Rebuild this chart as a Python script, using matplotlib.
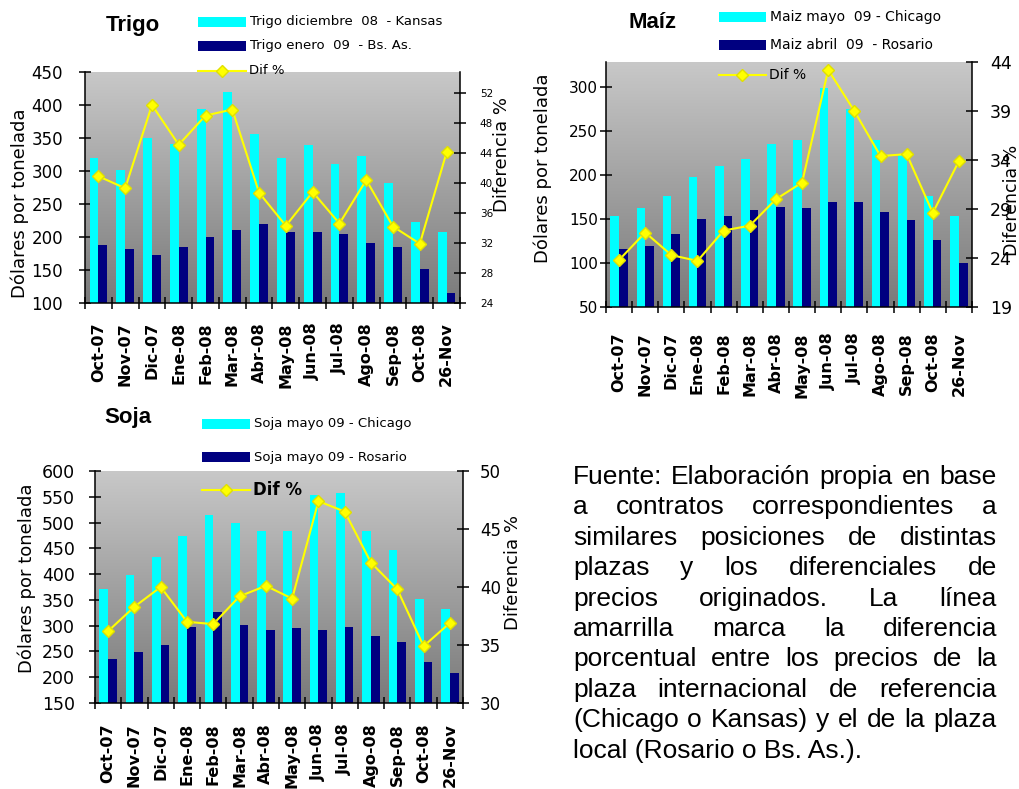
import matplotlib
matplotlib.use('Agg')
import matplotlib.pyplot as plt
import numpy as np
from matplotlib.patches import Rectangle
from matplotlib.lines import Line2D
from matplotlib.colors import LinearSegmentedColormap

# Datos
meses = ['Oct-07', 'Nov-07', 'Dic-07', 'Ene-08', 'Feb-08', 'Mar-08', 'Abr-08',
         'May-08', 'Jun-08', 'Jul-08', 'Ago-08', 'Sep-08', 'Oct-08', '26-Nov']

trigo_kansas = [319, 301, 350, 341, 394, 420, 356, 319, 340, 310, 322, 282, 222, 207]
trigo_bsas = [188, 182, 173, 185, 200, 210, 219, 207, 207, 204, 191, 185, 152, 115]
trigo_dif = [40.9, 39.3, 50.4, 45.1, 49.0, 49.8, 38.7, 34.3, 38.8, 34.6, 40.4, 34.2, 31.9, 44.1]

maiz_chicago = [153, 162, 176, 198, 210, 218, 235, 239, 298, 275, 239, 224, 176, 153]
maiz_rosario = [116, 119, 133, 150, 153, 160, 164, 162, 169, 169, 158, 149, 126, 100]
maiz_dif = [23.8, 26.6, 24.3, 23.7, 26.8, 27.3, 30.0, 31.7, 43.2, 39.0, 34.4, 34.6, 28.6, 33.9]

soja_chicago = [371, 399, 434, 473, 515, 500, 484, 484, 553, 558, 484, 446, 352, 333]
soja_rosario = [236, 248, 263, 298, 326, 302, 291, 295, 291, 298, 279, 268, 229, 209]
soja_dif = [36.2, 38.3, 40.0, 37.0, 36.8, 39.2, 40.1, 39.0, 47.4, 46.5, 42.1, 39.8, 34.9, 36.9]

texto_fuente = [
    "Fuente: Elaboración propia en base",
    "a contratos correspondientes a",
    "similares posiciones de distintas",
    "plazas y los diferenciales de",
    "precios originados. La línea",
    "amarrilla marca la diferencia",
    "porcentual entre los precios de la",
    "plaza internacional de referencia",
    "(Chicago o Kansas) y el de la plaza",
    "local (Rosario o Bs. As.).",
]

CYAN = '#00FFFF'
NAVY = '#000080'
AMARILLO = '#FFFF00'

W, H = 1020, 789
fig = plt.figure(figsize=(W / 100, H / 100), dpi=100)


def fx(x):
    return x / W


def fy(y):
    return 1 - y / H


fondo = LinearSegmentedColormap.from_list('fondo', ['#C8C8C8', '#7A7A7A'])
gradiente = np.linspace(0, 1, 256).reshape(-1, 1)


def panel(caja, altos, bajos, dif, lim1, ticks1, lim2, ticks2, tam1, tam2, pads):
    izq, arriba, der, abajo = caja
    ax = fig.add_axes([fx(izq), fy(abajo), (der - izq) / W, (abajo - arriba) / H])
    ax.imshow(gradiente, cmap=fondo, extent=[0, 1, 0, 1], transform=ax.transAxes,
              aspect='auto', zorder=0)
    x = np.arange(len(meses))
    ax.bar(x - 0.165, altos, width=0.33, color=CYAN, zorder=2)
    ax.bar(x + 0.165, bajos, width=0.33, color=NAVY, zorder=2)
    ax.set_xlim(-0.5, len(meses) - 0.5)
    ax.set_ylim(*lim1)
    ax.set_yticks(ticks1)
    ax.set_xticks(np.arange(-0.5, len(meses), 1))
    ax.set_xticklabels([])
    ax.set_xticks(x, minor=True)
    ax.set_xticklabels(meses, minor=True, rotation=90, fontsize=11.5, fontweight='bold')
    ax.tick_params(axis='x', which='minor', length=0, pad=pads[2])
    ax.tick_params(axis='x', which='major', direction='inout', length=8.6, width=1.1)
    ax.tick_params(axis='y', direction='inout', length=8.6, width=1.1,
                   labelsize=tam1, pad=pads[0])
    for s in ['top', 'right']:
        ax.spines[s].set_visible(False)
    for s in ['left', 'bottom']:
        ax.spines[s].set_linewidth(1.1)

    ax2 = ax.twinx()
    ax2.plot(x, dif, color=AMARILLO, lw=1.5, marker='D', ms=6,
             mfc=AMARILLO, mec='#E0E000', zorder=3)
    ax2.set_ylim(*lim2)
    ax2.set_yticks(ticks2)
    ax2.tick_params(axis='y', direction='inout', length=8.6, width=1.1,
                    labelsize=tam2, pad=pads[1])
    for s in ['top', 'left', 'bottom']:
        ax2.spines[s].set_visible(False)
    ax2.spines['right'].set_linewidth(1.1)
    return ax, ax2


def leyenda(x0, x1, filas, textos, tam, tam_dif, peso_dif='normal'):
    for color, yc, texto in zip([CYAN, NAVY], filas[:2], textos):
        fig.add_artist(Rectangle((fx(x0), fy(yc + 5)), (x1 - x0) / W, 10 / H,
                                 facecolor=color, edgecolor='none'))
        fig.text(fx(x1 + 4), fy(yc), texto, fontsize=tam, va='center')
    yl = filas[2]
    fig.add_artist(Line2D([fx(x0), fx(x1)], [fy(yl), fy(yl)], color=AMARILLO, lw=1.5))
    fig.add_artist(Line2D([fx((x0 + x1) / 2)], [fy(yl)], marker='D', ms=6,
                          mfc=AMARILLO, mec='#E0E000', ls='none'))
    fig.text(fx(x1 + 3), fy(yl), 'Dif %', fontsize=tam_dif, fontweight=peso_dif, va='center')


# Trigo
panel((85, 72, 460, 303), trigo_kansas, trigo_bsas, trigo_dif,
      (100, 450), np.arange(100, 451, 50), (24, 54.8), np.arange(24, 53, 4),
      12, 7.5, (11.5, 10, 13.7))
fig.text(fx(133), fy(25), 'Trigo', fontsize=16, fontweight='bold',
         family='Liberation Sans', ha='center', va='center')
leyenda(198, 246, (22, 46, 71),
        ['Trigo diciembre  08  - Kansas', 'Trigo enero  09  - Bs. As.'], 9.5, 9.5)
fig.text(fx(20), fy(203), 'Dólares por tonelada', rotation=90, fontsize=13,
         ha='center', va='center')
fig.text(fx(502), fy(155), 'Diferencia %', rotation=90, fontsize=13,
         ha='center', va='center')

# Maiz
panel((606, 62, 972, 307), maiz_chicago, maiz_rosario, maiz_dif,
      (50, 328), np.arange(50, 301, 50), (19, 44), np.arange(19, 45, 5),
      11, 12.5, (1.5, 8.6, 18))
fig.text(fx(653), fy(23), 'Maíz', fontsize=16, fontweight='bold',
         family='Liberation Sans', ha='center', va='center')
leyenda(719, 766, (17, 45, 75),
        ['Maiz mayo  09 - Chicago', 'Maiz abril  09  - Rosario'], 10, 10)
fig.text(fx(543), fy(168), 'Dólares por tonelada', rotation=90, fontsize=13,
         ha='center', va='center')
fig.text(fx(1012), fy(200), 'Diferencia %', rotation=90, fontsize=12.5,
         ha='center', va='center')

# Soja
panel((95, 471, 463, 703), soja_chicago, soja_rosario, soja_dif,
      (150, 600), np.arange(150, 601, 50), (30, 50), np.arange(30, 51, 5),
      12.5, 12, (10, 8, 14.4))
fig.text(fx(128), fy(418), 'Soja', fontsize=16, fontweight='bold',
         family='Liberation Sans', ha='center', va='center')
leyenda(202, 250, (424, 457, 490),
        ['Soja mayo 09 - Chicago', 'Soja mayo 09 - Rosario'], 9.5, 12, 'bold')
fig.text(fx(27), fy(578), 'Dólares por tonelada', rotation=90, fontsize=13,
         ha='center', va='center')
fig.text(fx(513), fy(573), 'Diferencia %', rotation=90, fontsize=13,
         ha='center', va='center')

# Texto justificado de la fuente
renderer = fig.canvas.get_renderer()
x_izq, x_der = 573, 997
tam_txt = 19
for i, linea in enumerate(texto_fuente):
    yb = 484 + i * 30.4
    palabras = linea.split()
    if i == len(texto_fuente) - 1:
        fig.text(fx(x_izq), fy(yb), linea, fontsize=tam_txt, family='Liberation Sans',
                 va='baseline')
        continue
    anchos = []
    for p in palabras:
        t = fig.text(0, 0, p, fontsize=tam_txt, family='Liberation Sans')
        anchos.append(t.get_window_extent(renderer).width)
        t.remove()
    hueco = (x_der - x_izq - sum(anchos)) / (len(palabras) - 1)
    xp = x_izq
    for p, a in zip(palabras, anchos):
        fig.text(fx(xp), fy(yb), p, fontsize=tam_txt, family='Liberation Sans',
                 va='baseline')
        xp += a + hueco

fig.savefig('out.png', dpi=100)
